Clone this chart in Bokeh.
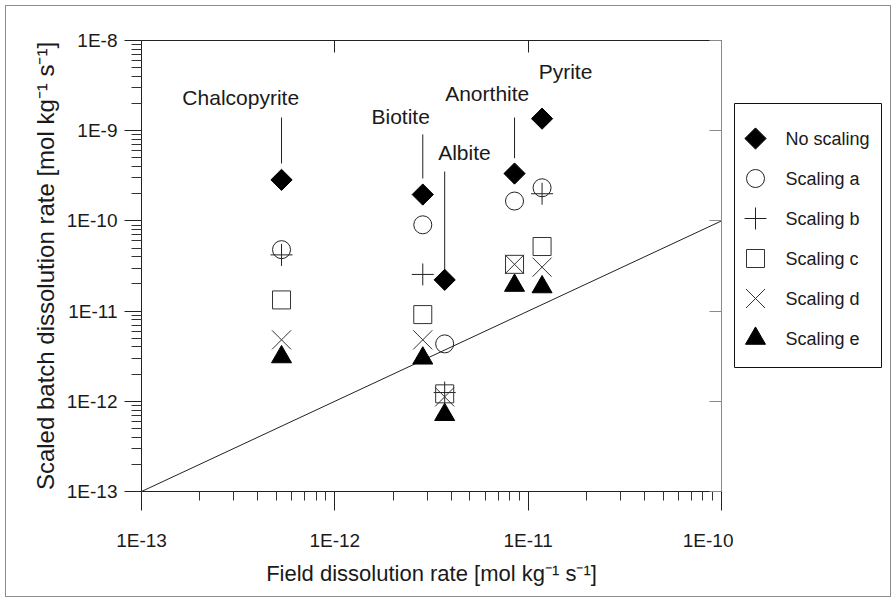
import math
from bokeh.plotting import figure
from bokeh.models import Range1d, LogAxis, FixedTicker, CustomJSTickFormatter, InlineStyleSheet
from bokeh.layouts import row
from bokeh.core.properties import value
from bokeh.embed import file_html
from bokeh.resources import INLINE

NAN = float("nan")

# ---------------- data ----------------
minerals = ["Chalcopyrite", "Biotite", "Albite", "Anorthite", "Pyrite"]
field_rate = [5.3e-13, 2.85e-12, 3.7e-12, 8.5e-12, 1.18e-11]
no_scaling = [2.85e-10, 1.96e-10, 2.22e-11, 3.35e-10, 1.36e-9]
scaling_a = [4.8e-11, 9.05e-11, 4.33e-12, 1.66e-10, 2.33e-10]
scaling_b = [4.2e-11, 2.55e-11, 1.25e-12, NAN, 2.0e-10]
scaling_c = [1.33e-11, 9.15e-12, 1.21e-12, 3.3e-11, 5.2e-11]
scaling_d = [4.8e-12, 4.8e-12, 1.12e-12, 3.3e-11, 3.07e-11]
scaling_e = [3.1e-12, 3.0e-12, 7.1e-13, 1.92e-11, 1.85e-11]

series_names = ["No scaling", "Scaling a", "Scaling b", "Scaling c", "Scaling d", "Scaling e"]

# 1:1 line
one_to_one = [1e-13, 1e-10]

# mineral annotation labels and leader lines
label_x = [3.26e-13, 2.19e-12, 4.68e-12, 6.14e-12, 1.56e-11]
label_y = [2.35e-9, 1.45e-9, 5.79e-10, 2.61e-9, 4.53e-9]
leader_top = [1.40e-9, 9.1e-10, 3.53e-10, 1.40e-9, NAN]
leader_bottom = [4.33e-10, 2.95e-10, 2.70e-11, 4.96e-10, NAN]

# axis ticks
x_major = [1e-13, 1e-12, 1e-11, 1e-10]
y_major = [1e-13, 1e-12, 1e-11, 1e-10, 1e-9, 1e-8]
x_minor = [k * 10.0 ** e for e in range(-13, -10) for k in range(2, 10)]
y_minor = [k * 10.0 ** e for e in range(-13, -8) for k in range(2, 10)]

x_title = "Field dissolution rate [mol kg\u207b\u00b9 s\u207b\u00b9]"
y_title = "Scaled batch dissolution rate [mol kg\u207b\u00b9 s\u207b\u00b9]"

# ---------------- styling ----------------
SANS = "Liberation Sans"
TXT = "#1a1a1a"

marker_styles = [
    dict(marker="square", angle=math.pi / 4, size=15, fill_color="black", line_color="black"),
    dict(marker="circle", size=18, fill_color=None, line_color="#222222", line_width=1),
    dict(marker="cross", size=22, line_color="#222222", line_width=1),
    dict(marker="square", size=18, fill_color=None, line_color="#333333", line_width=1),
    dict(marker="x", size=27, line_color="#333333", line_width=1),
    dict(marker="triangle", size=20, fill_color="black", line_color="black"),
]
series_values = [no_scaling, scaling_a, scaling_b, scaling_c, scaling_d, scaling_e]

fmt = CustomJSTickFormatter(code="return '1E' + Math.round(Math.log10(tick));")
blank = CustomJSTickFormatter(code="return '';")

BORDER_TOP = 34
BORDER_BOTTOM = 105

p1 = figure(width=727, height=590, x_axis_type="log", y_axis_type="log",
            x_range=Range1d(1e-13, 1e-10), y_range=Range1d(1e-13, 1e-8),
            output_backend="svg", toolbar_location=None,
            min_border_left=135, min_border_right=12,
            min_border_top=BORDER_TOP, min_border_bottom=BORDER_BOTTOM)
p1.outline_line_color = None
p1.grid.visible = False
p1.background_fill_color = "white"
p1.border_fill_color = "white"

# bottom axis
xa = p1.xaxis[0]
xa.ticker = FixedTicker(ticks=x_major, minor_ticks=x_minor)
xa.formatter = fmt
xa.axis_line_color = "#222222"
xa.major_tick_line_color = "#222222"
xa.minor_tick_line_color = "#333333"
xa.major_tick_out = 19
xa.major_tick_in = 0
xa.minor_tick_out = 9
xa.minor_tick_in = 0
xa.major_label_standoff = 19
xa.major_label_text_font = SANS
xa.major_label_text_font_size = "19px"
xa.major_label_text_color = TXT
xa.axis_label = x_title
xa.axis_label_text_font = SANS
xa.axis_label_text_font_style = "normal"
xa.axis_label_text_font_size = "22px"
xa.axis_label_text_color = TXT
xa.axis_label_standoff = 7

# left axis
ya = p1.yaxis[0]
ya.ticker = FixedTicker(ticks=y_major, minor_ticks=y_minor)
ya.formatter = fmt
ya.axis_line_color = "#222222"
ya.major_tick_line_color = "#222222"
ya.minor_tick_line_color = "#333333"
ya.major_tick_out = 17
ya.major_tick_in = 0
ya.minor_tick_out = 10
ya.minor_tick_in = 0
ya.major_label_standoff = 7
ya.major_label_text_font = SANS
ya.major_label_text_font_size = "19px"
ya.major_label_text_color = TXT
ya.axis_label = y_title
ya.axis_label_text_font = SANS
ya.axis_label_text_font_style = "normal"
ya.axis_label_text_font_size = "24px"
ya.axis_label_text_color = TXT
ya.axis_label_standoff = 5

# top axis: inward ticks only
top_axis = LogAxis(ticker=FixedTicker(ticks=x_major), formatter=blank,
                   major_label_standoff=0,
                   major_tick_in=12, major_tick_out=0, minor_tick_in=0, minor_tick_out=0,
                   axis_line_color="#222222", major_tick_line_color="#222222")
p1.add_layout(top_axis, "above")

# right axis: inward ticks, gray
right_axis = LogAxis(ticker=FixedTicker(ticks=y_major), formatter=blank,
                     major_label_standoff=0,
                     major_tick_in=12, major_tick_out=0, minor_tick_in=0, minor_tick_out=0,
                     axis_line_color="#8a8a8a", major_tick_line_color="#8a8a8a")
p1.add_layout(right_axis, "right")

# 1:1 line
p1.line(x=one_to_one, y=one_to_one, line_color="#222222", line_width=1)

# leader lines
p1.segment(x0=field_rate, y0=leader_top, x1=field_rate, y1=leader_bottom,
           line_color="#222222", line_width=1)

# mineral labels
p1.text(x=label_x, y=label_y, text=minerals, text_align="center", text_baseline="middle",
        text_font=value(SANS), text_font_size="21px", text_color=TXT)

# data series
for vals, st in zip(series_values, marker_styles):
    p1.scatter(x=field_rate, y=vals, **st)

# ---------------- legend panel ----------------
# entry i sits at index i; 40 px per entry; frame shares p1's vertical extent
leg_index = list(range(len(series_names)))
p2 = figure(width=157, height=590, x_range=Range1d(0, 157), y_range=Range1d(8.825, -2.45),
            output_backend="svg", toolbar_location=None,
            x_axis_location=None, y_axis_location=None,
            min_border_left=0, min_border_right=0,
            min_border_top=BORDER_TOP, min_border_bottom=BORDER_BOTTOM)
p2.grid.visible = False
p2.outline_line_color = None
p2.border_fill_color = "white"
p2.background_fill_color = "white"

p2.quad(left=[1], right=[148], top=[-0.875], bottom=[5.725],
        fill_color=None, line_color="#111111", line_width=1)
for i, st in enumerate(marker_styles):
    p2.scatter(x=[22], y=[leg_index[i]], **st)
p2.text(x=[52] * len(series_names), y=leg_index, text=series_names, text_align="left",
        text_baseline="middle", text_font=value(SANS), text_font_size="18px", text_color=TXT)

layout = row(p1, p2, margin=(6, 6, 6, 6),
             stylesheets=[InlineStyleSheet(css=":host { outline: 1px solid #8c8c8c; }")])

open("out.html", "w").write(file_html(layout, INLINE))
